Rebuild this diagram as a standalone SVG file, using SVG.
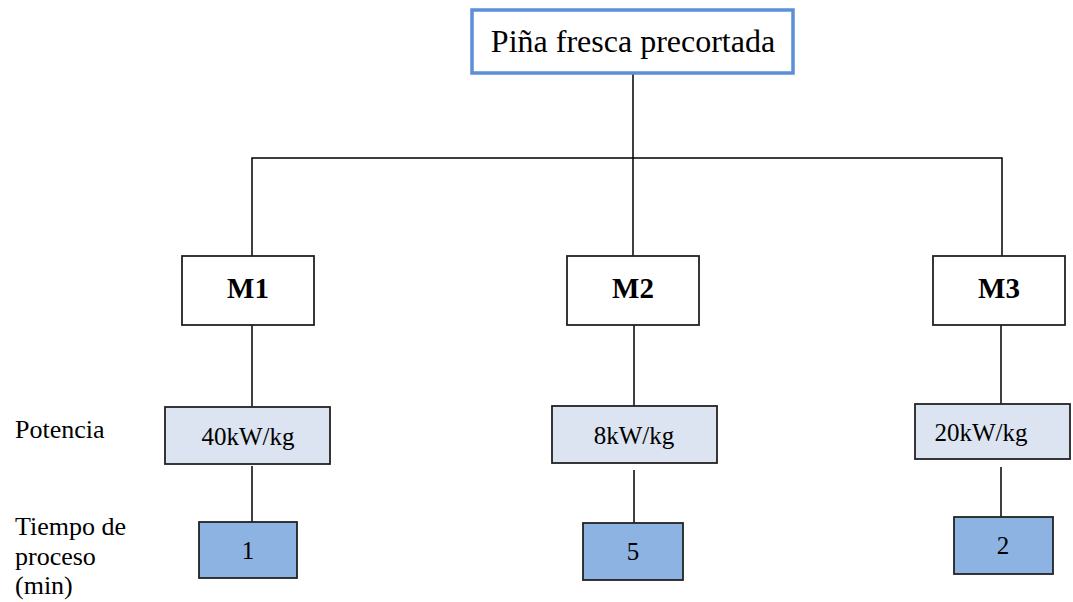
<svg xmlns="http://www.w3.org/2000/svg" width="1073" height="602" viewBox="0 0 1073 602">
<style>
text{font-family:"Liberation Serif","Times New Roman",serif;fill:#000}
.box{fill:#fff;stroke:#222;stroke-width:1.8}
.pw{fill:#dbe4f0;stroke:#222;stroke-width:1.8}
.tm{fill:#8db3e2;stroke:#222;stroke-width:1.8}
.ln{fill:none;stroke:#000;stroke-width:1.5}
.m{font-size:29px;font-weight:bold;text-anchor:middle}
.v{font-size:25px;text-anchor:middle}
.lab{font-size:26px}
</style>
<rect width="1073" height="602" fill="#fff"/>
<g id="connectors">
<line class="ln" x1="633" y1="74" x2="633" y2="158"/>
<polyline class="ln" points="252,256 252,158 1002,158 1002,256"/>
<line class="ln" x1="633" y1="158" x2="633" y2="256"/>
<line class="ln" x1="252" y1="325" x2="252" y2="406"/>
<line class="ln" x1="634" y1="325" x2="634" y2="406"/>
<line class="ln" x1="1001" y1="325" x2="1001" y2="404"/>
<line class="ln" x1="252" y1="466" x2="252" y2="522"/>
<line class="ln" x1="634" y1="470" x2="634" y2="523"/>
<line class="ln" x1="1001" y1="467" x2="1001" y2="517"/>
</g>
<g id="root">
<rect x="472" y="10" width="321" height="63" fill="#fff" stroke="#5b8fd6" stroke-width="3.5"/>
<text x="633" y="52" font-size="32" text-anchor="middle">Piña fresca precortada</text>
</g>
<g id="m1">
<rect class="box" x="182" y="256" width="132" height="69"/>
<text class="m" x="248" y="298">M1</text>
</g>
<g id="m2">
<rect class="box" x="567" y="256" width="132" height="69"/>
<text class="m" x="633" y="298">M2</text>
</g>
<g id="m3">
<rect class="box" x="933" y="256" width="132" height="69"/>
<text class="m" x="999" y="298">M3</text>
</g>
<g id="p1">
<rect class="pw" x="165" y="407" width="165" height="57"/>
<text class="v" x="248" y="445">40kW/kg</text>
</g>
<g id="p2">
<rect class="pw" x="552" y="406" width="165" height="57"/>
<text class="v" x="634" y="444">8kW/kg</text>
</g>
<g id="p3">
<rect class="pw" x="915" y="404" width="155" height="55"/>
<text class="v" x="981" y="441">20kW/kg</text>
</g>
<g id="t1">
<rect class="tm" x="199" y="522" width="98" height="56"/>
<text class="v" x="248" y="559">1</text>
</g>
<g id="t2">
<rect class="tm" x="583" y="523" width="100" height="57"/>
<text class="v" x="633" y="560">5</text>
</g>
<g id="t3">
<rect class="tm" x="954" y="517" width="99" height="57"/>
<text class="v" x="1003" y="554">2</text>
</g>
<g id="labels">
<text class="lab" x="15" y="438">Potencia</text>
<text class="lab" x="15" y="535">Tiempo de</text>
<text class="lab" x="15" y="565">proceso</text>
<text class="lab" x="15" y="594">(min)</text>
</g>
</svg>
